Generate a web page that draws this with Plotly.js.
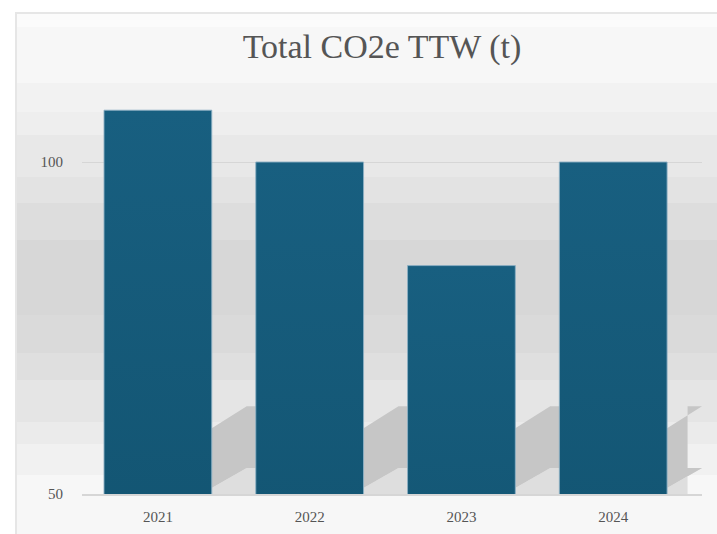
<!DOCTYPE html>
<html>
<head>
<meta charset="utf-8">
<script src="https://cdn.plot.ly/plotly-3.0.1.min.js"></script>
<style>
  html, body { margin: 0; padding: 0; background: #ffffff; overflow: hidden; }
  #wrap { position: relative; width: 717px; height: 534px; overflow: hidden; background: #ffffff; }
  #bg {
    position: absolute; left: 15px; top: 12px; width: 710px; height: 530px;
    border-top: 2px solid #e6e6e6; border-left: 2px solid #e6e6e6;
    background: linear-gradient(to bottom,
      #fbfbfb 0px, #fbfbfb 13px,
      #f7f7f7 13px, #f7f7f7 69px,
      #f2f2f2 69px, #f2f2f2 98px,
      #eeeeee 98px, #eeeeee 121px,
      #e8e8e8 121px, #e8e8e8 163px,
      #e3e3e3 163px, #e3e3e3 189px,
      #dddddd 189px, #dddddd 226px,
      #d7d7d7 226px, #d7d7d7 301px,
      #dadada 301px, #dadada 339px,
      #dfdfdf 339px, #dfdfdf 366px,
      #e5e5e5 366px, #e5e5e5 408px,
      #ebebeb 408px, #ebebeb 430px,
      #f1f1f1 430px, #f1f1f1 461px,
      #f7f7f7 461px, #f7f7f7 530px);
  }
  #chart { position: absolute; left: 0; top: 0; width: 717px; height: 534px; }
</style>
</head>
<body>
<div id="wrap">
  <div id="bg"></div>
  <div id="chart"></div>
</div>
<script>
const categories = ["2021", "2022", "2023", "2024"];
const co2eValues = [107.8, 100, 84.4, 100];
const yTickValues = [50, 100];
const yTickLabels = ["50", "100"];
const titleText = "Total CO2e TTW (t)";

const serif = "Liberation Serif, Times New Roman, serif";
const barHalf = 0.355;

// decorative floor shadows behind each bar (fixed height, not data)
const shapes = [];
categories.forEach((c, i) => {
  const xr = i + barHalf;
  const xe = i === categories.length - 1 ? i + 0.49 : i + 1;
  shapes.push({
    type: "path", xref: "x", yref: "y", layer: "below",
    path: `M ${xr},50 L ${xr},50.9 L ${xr + 0.23},53.9 L ${xe},53.9 L ${xe},50 Z`,
    fillcolor: "#dedede", line: { width: 0 }
  });
  shapes.push({
    type: "path", xref: "x", yref: "y", layer: "below",
    path: `M ${xr},50.9 L ${xr},59.9 L ${xr + 0.23},63.2 L ${xe},63.2 L ${xe},53.9 L ${xr + 0.23},53.9 Z`,
    fillcolor: "#c6c6c6", line: { width: 0 }
  });
});

const trace = {
  type: "bar",
  x: categories,
  y: co2eValues,
  marker: { color: "#145877", line: { color: "rgba(140,175,195,0.9)", width: 1 } },
  hoverinfo: "x+y"
};

const layout = {
  width: 717, height: 534,
  margin: { l: 82, r: 15, t: 79, b: 40, pad: 0 },
  paper_bgcolor: "rgba(0,0,0,0)",
  plot_bgcolor: "rgba(0,0,0,0)",
  showlegend: false,
  bargap: 0.29,
  font: { family: serif, color: "#555555" },
  title: {
    text: titleText,
    font: { family: serif, size: 34, color: "#555555" },
    xref: "container", x: 382 / 717, xanchor: "center",
    yref: "container", y: 1 - 46 / 534, yanchor: "middle"
  },
  xaxis: {
    type: "category",
    tickfont: { family: serif, size: 15, color: "#555555" },
    showgrid: false,
    showline: true, linecolor: "#d6d6d6", linewidth: 2,
    ticks: "", ticklabelstandoff: 8
  },
  yaxis: {
    range: [50, 112.5],
    tickvals: yTickValues, ticktext: yTickLabels,
    tickfont: { family: serif, size: 15, color: "#555555" },
    showgrid: true, gridcolor: "#d6d6d6", gridwidth: 1,
    zeroline: false, showline: false,
    ticks: "", ticklabelstandoff: 18
  },
  shapes: shapes
};

Plotly.newPlot("chart", [trace], layout, { displayModeBar: false, staticPlot: true }).then(gd => {
  // vertical shading on the bars (style only)
  const svg = gd.querySelector("svg.main-svg");
  const ns = "http://www.w3.org/2000/svg";
  let defs = svg.querySelector("defs");
  if (!defs) { defs = document.createElementNS(ns, "defs"); svg.insertBefore(defs, svg.firstChild); }
  const grad = document.createElementNS(ns, "linearGradient");
  grad.setAttribute("id", "barShade");
  grad.setAttribute("x1", "0"); grad.setAttribute("y1", "0");
  grad.setAttribute("x2", "0"); grad.setAttribute("y2", "1");
  [["0", "#185f80"], ["1", "#0f4e69"]].forEach(([o, c]) => {
    const s = document.createElementNS(ns, "stop");
    s.setAttribute("offset", o); s.setAttribute("stop-color", c);
    grad.appendChild(s);
  });
  defs.appendChild(grad);
  gd.querySelectorAll(".bars .point path").forEach(p => {
    p.style.fill = "url(#barShade)";
  });
});
</script>
</body>
</html>
